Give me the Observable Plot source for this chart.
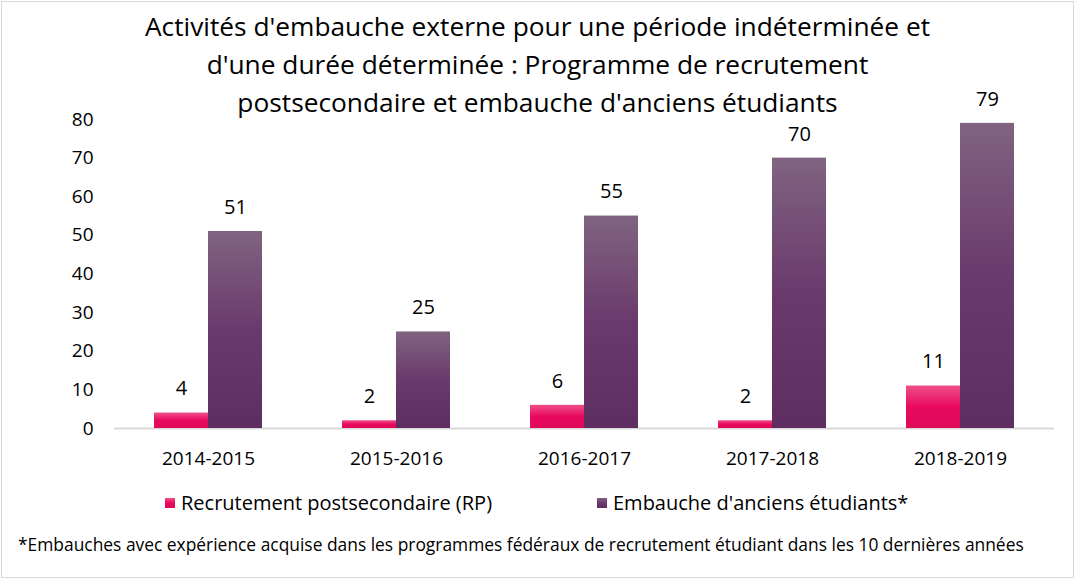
<!DOCTYPE html>
<html>
<head>
<meta charset="utf-8">
<script src="https://cdn.jsdelivr.net/npm/d3@7"></script>
<script src="https://cdn.jsdelivr.net/npm/@observablehq/plot@0.6"></script>
<style>
  html, body { margin: 0; padding: 0; background: #fff; }
  body { font-family: "Open Sans", "Noto Sans", sans-serif; color: #000; }
  #frame { position: absolute; left: 1px; top: 1px; width: 1071px; height: 575px; border: 1px solid #d9d9d9; box-sizing: content-box; }
  #title { position: absolute; left: 0; top: 7px; width: 1075px; text-align: center; font-size: 26.3px; line-height: 38px; }
  #chart { position: absolute; left: 0; top: 0; }
  #legend { position: absolute; top: 489px; left: 0; font-size: 20px; }
  .item { position: absolute; white-space: nowrap; display: flex; align-items: center; }
  .sw { width: 10px; height: 10px; margin-right: 6px; }
  #note { position: absolute; top: 532px; left: 18px; font-size: 17.4px; white-space: nowrap; }
</style>
</head>
<body>
<div id="frame"></div>
<div id="chart"></div>
<div id="title">Activités d'embauche externe pour une période indéterminée et<br>d'une durée déterminée : Programme de recrutement<br>postsecondaire et embauche d'anciens étudiants</div>
<div id="legend">
  <div class="item" style="left:165px;top:0"><div class="sw" style="background:linear-gradient(#f0508a,#e8095f 50%,#df0a5a)"></div>Recrutement postsecondaire (RP)</div>
  <div class="item" style="left:597px;top:0"><div class="sw" style="background:linear-gradient(#7f6180,#69396b 50%,#5d2e5f)"></div>Embauche d'anciens étudiants*</div>
</div>
<div id="note">*Embauches avec expérience acquise dans les programmes fédéraux de recrutement étudiant dans les 10 dernières années</div>
<script>
const years = ["2014-2015", "2015-2016", "2016-2017", "2017-2018", "2018-2019"];
const series = ["Recrutement postsecondaire (RP)", "Embauche d'anciens étudiants*"];
const rpValues = [4, 2, 6, 2, 11];
const anciensValues = [51, 25, 55, 70, 79];
const yTicks = [0, 10, 20, 30, 40, 50, 60, 70, 80];

const data = [];
years.forEach((y, i) => {
  data.push({year: y, series: series[0], value: rpValues[i]});
  data.push({year: y, series: series[1], value: anciensValues[i]});
});

const plot = Plot.plot({
  width: 1075,
  height: 480,
  marginTop: 119,
  marginBottom: 52,
  marginLeft: 112,
  marginRight: 20,
  style: {fontFamily: "'Open Sans', 'Noto Sans', sans-serif", fontSize: "19px", color: "#000", background: "transparent"},
  fx: {domain: years, padding: 0, label: null, tickSize: 0, tickPadding: 23},
  x: {domain: series, paddingInner: 0, paddingOuter: 0.73, axis: null},
  y: {domain: [0, 80], ticks: yTicks, label: null, tickSize: 0, tickPadding: 21},
  color: {domain: series, range: ["url(#gPink)", "url(#gPurple)"]},
  marks: [
    Plot.ruleY([0], {stroke: "#d9d9d9", strokeWidth: 2}),
    Plot.barY(data, {fx: "year", x: "series", y: "value", fill: "series", inset: 0}),
    Plot.text(data, {fx: "year", x: "series", y: "value", text: d => String(d.value), dy: -24, fontSize: 20, fill: "#000"})
  ]
});

const ns = "http://www.w3.org/2000/svg";
const defs = document.createElementNS(ns, "defs");
function grad(id, stops) {
  const g = document.createElementNS(ns, "linearGradient");
  g.setAttribute("id", id);
  g.setAttribute("x1", "0"); g.setAttribute("y1", "0");
  g.setAttribute("x2", "0"); g.setAttribute("y2", "1");
  stops.forEach(([o, c]) => {
    const s = document.createElementNS(ns, "stop");
    s.setAttribute("offset", o);
    s.setAttribute("stop-color", c);
    g.appendChild(s);
  });
  defs.appendChild(g);
}
grad("gPink", [["0", "#f0508a"], ["0.5", "#e8095f"], ["1", "#df0a5a"]]);
grad("gPurple", [["0", "#806381"], ["0.5", "#6a3a6c"], ["1", "#5d2e5f"]]);
plot.insertBefore(defs, plot.firstChild);
document.getElementById("chart").appendChild(plot);
</script>
</body>
</html>
